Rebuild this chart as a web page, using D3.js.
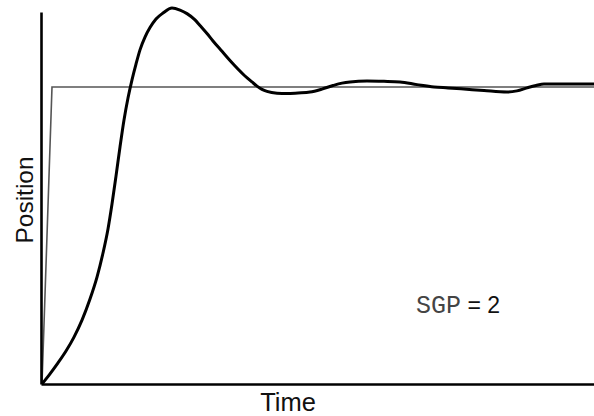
<!DOCTYPE html>
<html>
<head>
<meta charset="utf-8">
<script src="https://cdn.jsdelivr.net/npm/d3@7"></script>
<style>
  html, body { margin: 0; padding: 0; background: #fff; }
  svg { display: block; }
</style>
</head>
<body>
<svg id="chart" width="594" height="416"></svg>
<script>
// Step response of a position controller (time in ms, position normalised to the setpoint)
const responseTime = [1, 9, 17, 25, 33, 41, 49, 56, 62, 67, 71, 75, 79, 83, 87, 91, 95, 99, 104, 109, 115, 122, 131, 139, 146, 154, 159, 166, 172, 181, 189, 204, 211, 216, 221, 226, 236, 246, 257, 269, 281, 292, 301, 309, 326, 343, 359, 376, 393, 407, 420, 443, 466, 476, 486, 495, 503, 519, 553];
const responsePosition = [0, 0.034, 0.071, 0.111, 0.158, 0.215, 0.286, 0.360, 0.441, 0.522, 0.606, 0.700, 0.798, 0.889, 0.963, 1.024, 1.077, 1.125, 1.168, 1.200, 1.229, 1.249, 1.266, 1.259, 1.247, 1.226, 1.207, 1.180, 1.155, 1.120, 1.089, 1.037, 1.017, 1.003, 0.992, 0.985, 0.979, 0.978, 0.980, 0.983, 0.993, 1.005, 1.013, 1.017, 1.020, 1.019, 1.017, 1.008, 1.0, 0.997, 0.994, 0.988, 0.983, 0.987, 0.997, 1.005, 1.010, 1.010, 1.010];

// Commanded setpoint
const setpointTime = [1, 11, 553];
const setpointPosition = [0, 1, 1];

const xLabel = "Time";
const yLabel = "Position";
const gainName = "SGP";
const gainValue = 2;

const svg = d3.select("#chart");
const margin = { left: 41, right: 0, top: 12, bottom: 32 };
const W = 594, H = 416;

const x = d3.scaleLinear().domain([0, 553]).range([margin.left, W - margin.right]);
const y = d3.scaleLinear().domain([0, 1.2525]).range([H - margin.bottom, margin.top]);

const line = d3.line()
  .x(d => x(d[0]))
  .y(d => y(d[1]));

// Setpoint (thin)
svg.append("path")
  .datum(setpointTime.map((t, i) => [t, setpointPosition[i]]))
  .attr("d", line)
  .attr("fill", "none")
  .attr("stroke", "#555")
  .attr("stroke-width", 1.6);

// Measured response (thick, smooth)
svg.append("path")
  .datum(responseTime.map((t, i) => [t, responsePosition[i]]))
  .attr("d", line.curve(d3.curveMonotoneX))
  .attr("fill", "none")
  .attr("stroke", "#000")
  .attr("stroke-width", 3)
  .attr("stroke-linejoin", "round");

// Axes with no ticks, just the axis lines
const xAxis = svg.append("g")
  .attr("transform", `translate(0,${y(0)})`)
  .call(d3.axisBottom(x).tickValues([]).tickSizeOuter(0));
const yAxis = svg.append("g")
  .attr("transform", `translate(${x(0)},0)`)
  .call(d3.axisLeft(y).tickValues([]).tickSizeOuter(0));
[xAxis, yAxis].forEach(g => g.select(".domain").attr("stroke", "#000").attr("stroke-width", 2.6));

svg.append("text")
  .attr("x", 288).attr("y", 411)
  .attr("text-anchor", "middle")
  .attr("font-family", "Liberation Sans, Arial, sans-serif")
  .attr("font-size", 25.5)
  .attr("fill", "#111")
  .text(xLabel);

svg.append("text")
  .attr("transform", "translate(33,200) rotate(-90)")
  .attr("text-anchor", "middle")
  .attr("font-family", "Liberation Sans, Arial, sans-serif")
  .attr("font-size", 24.5)
  .attr("fill", "#111")
  .text(yLabel);

const note = svg.append("text")
  .attr("x", 416).attr("y", 313)
  .attr("fill", "#111");
note.append("tspan")
  .attr("font-family", "Liberation Mono, Courier New, monospace")
  .attr("font-size", 25)
  .attr("fill", "#444")
  .text(gainName);
note.append("tspan")
  .attr("font-family", "Liberation Sans, Arial, sans-serif")
  .attr("font-size", 23)
  .text(" = " + gainValue);
</script>
</body>
</html>
